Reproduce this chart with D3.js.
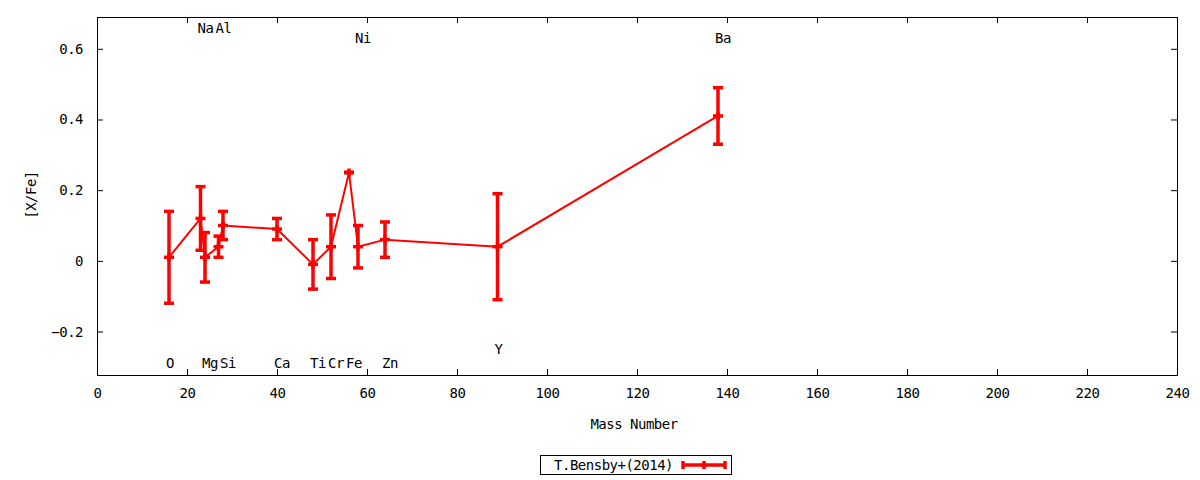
<!DOCTYPE html>
<html>
<head>
<meta charset="utf-8">
<script src="https://cdn.jsdelivr.net/npm/d3@7"></script>
<style>
body{margin:0;background:#fff;}
text{font-family:"DejaVu Sans Mono",monospace;font-size:14px;letter-spacing:-0.5px;fill:#000;}
</style>
</head>
<body>
<svg id="chart" width="1200" height="480"></svg>
<script>
width = 1200;
height = 480;
margin = {left: 97, right: 23, top: 17, bottom: 105};

// abundance ratios
elements = ['O','Na','Mg','Al','Si','Ca','Ti','Cr','Fe','Ni','Zn','Y','Ba'];
mass     = [16, 23, 24, 27, 28, 40, 48, 52, 56, 58, 64, 89, 138];
xfe      = [0.01, 0.12, 0.01, 0.04, 0.10, 0.09, -0.01, 0.04, 0.25, 0.04, 0.06, 0.04, 0.41];
err      = [0.13, 0.09, 0.07, 0.03, 0.04, 0.03, 0.07, 0.09, 0.00, 0.06, 0.05, 0.15, 0.08];

// element labels: name, x (mass), y ([X/Fe])
labelNames = ['O','Na','Mg','Al','Si','Ca','Ti','Cr','Fe','Ni','Zn','Y','Ba'];
labelX     = [16, 23, 24, 27, 28, 40, 48, 52, 56, 58, 64, 89, 138];
labelY     = [-0.29, 0.66, -0.29, 0.66, -0.29, -0.29, -0.29, -0.29, -0.29, 0.63, -0.29, -0.25, 0.63];

xTicks = [0,20,40,60,80,100,120,140,160,180,200,220,240];
yTicks = [-0.2, 0, 0.2, 0.4, 0.6];
seriesName = 'T.Bensby+(2014)';

svg = d3.select('#chart');
x = d3.scaleLinear().domain([0, 240]).range([margin.left, width - margin.right]);
y = d3.scaleLinear().domain([-0.323, 0.69]).range([height - margin.bottom, margin.top]);

plotW = x.range()[1] - x.range()[0];
plotH = y.range()[0] - y.range()[1];

// axes (gnuplot style, ticks inward and mirrored)
function styleAxis(g){
	g.select('.domain').remove();
	g.selectAll('line').attr('stroke', '#000');
	g.selectAll('text').style('font-size', null).attr('font-size', null).attr('font-family', null);
}
svg.append('g').attr('transform', `translate(0,${y.range()[0]})`)
	.call(d3.axisBottom(x).tickValues(xTicks).tickSize(-6).tickPadding(13).tickFormat(d3.format('d')))
	.call(styleAxis);
svg.append('g').attr('transform', `translate(0,${y.range()[1]})`)
	.call(d3.axisTop(x).tickValues(xTicks).tickSize(-6).tickFormat(''))
	.call(styleAxis);
svg.append('g').attr('transform', `translate(${x.range()[0]},0)`)
	.call(d3.axisLeft(y).tickValues(yTicks).tickSize(-6).tickPadding(14).tickFormat(d => d === 0 ? '0' : d3.format('.1f')(d)))
	.call(styleAxis);
svg.append('g').attr('transform', `translate(${x.range()[1]},0)`)
	.call(d3.axisRight(y).tickValues(yTicks).tickSize(-6).tickFormat(''))
	.call(styleAxis);

svg.append('rect')
	.attr('x', x.range()[0] + 0.5).attr('y', y.range()[1] + 0.5)
	.attr('width', plotW).attr('height', plotH)
	.attr('fill', 'none').attr('stroke', '#000').attr('stroke-width', 1);

// axis titles
svg.append('text')
	.attr('x', (x.range()[0] + x.range()[1]) / 2 - 3).attr('y', 429)
	.attr('text-anchor', 'middle').text('Mass Number');
svg.append('text')
	.attr('transform', `translate(36,${(y.range()[0] + y.range()[1]) / 2 - 1}) rotate(-90)`)
	.attr('text-anchor', 'middle').text('[X/Fe]');

// element labels
svg.append('g').selectAll('text')
	.data(labelNames)
	.join('text')
	.attr('x', (d, i) => x(labelX[i]) - 3)
	.attr('y', (d, i) => y(labelY[i]))
	.attr('dy', '0.35em')
	.text(d => d);

// data line
red = '#ff0000';
idx = d3.range(elements.length);
line = d3.line().x(i => x(mass[i])).y(i => y(xfe[i]));
svg.append('path')
	.datum(idx)
	.attr('d', line)
	.attr('fill', 'none').attr('stroke', red).attr('stroke-width', 2);

// error bars with '+' point marker
bars = svg.append('g').selectAll('g')
	.data(idx)
	.join('g');
capW = 5;
bars.append('line')
	.attr('x1', i => x(mass[i])).attr('x2', i => x(mass[i]))
	.attr('y1', i => y(xfe[i] - err[i])).attr('y2', i => y(xfe[i] + err[i]))
	.attr('stroke', red).attr('stroke-width', 3.5);
bars.append('line')
	.attr('x1', i => x(mass[i])).attr('x2', i => x(mass[i]))
	.attr('y1', i => y(xfe[i]) - 4).attr('y2', i => y(xfe[i]) + 4)
	.attr('stroke', red).attr('stroke-width', 3.5);
[-1, 0, 1].forEach(s => {
	bars.append('line')
		.attr('x1', i => x(mass[i]) - capW).attr('x2', i => x(mass[i]) + capW)
		.attr('y1', i => y(xfe[i] + s * err[i])).attr('y2', i => y(xfe[i] + s * err[i]))
		.attr('stroke', red).attr('stroke-width', 3.5);
});

// legend
lg = svg.append('g');
lg.append('rect')
	.attr('x', 540.5).attr('y', 455.5).attr('width', 191).attr('height', 19)
	.attr('fill', 'none').attr('stroke', '#000');
lg.append('text')
	.attr('x', 673).attr('y', 465).attr('dy', '0.35em')
	.attr('text-anchor', 'end').text(seriesName);
lg.append('line')
	.attr('x1', 683).attr('x2', 725).attr('y1', 465).attr('y2', 465)
	.attr('stroke', red).attr('stroke-width', 3.5);
[683, 704, 725].forEach(px => {
	lg.append('line')
		.attr('x1', px).attr('x2', px).attr('y1', 461).attr('y2', 469)
		.attr('stroke', red).attr('stroke-width', 3.5);
});
</script>
</body>
</html>
